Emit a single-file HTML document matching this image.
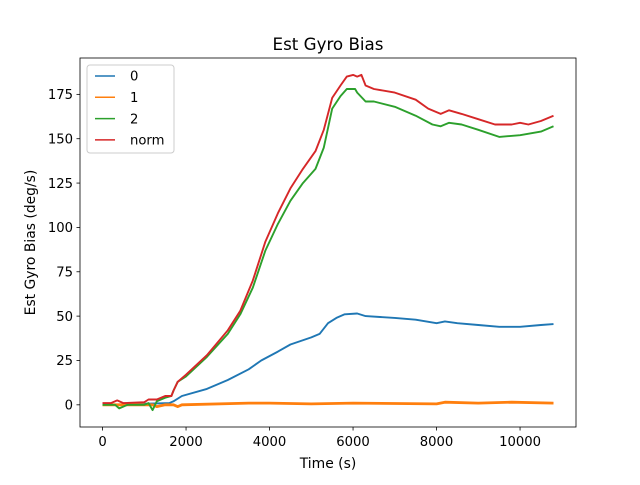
<!DOCTYPE html>
<html><head><meta charset="utf-8"><style>
body{margin:0;background:#fff}
text{font-family:"DejaVu Sans","Liberation Sans",sans-serif;fill:#000}
</style></head><body>
<svg id="chart" width="640" height="480" xmlns="http://www.w3.org/2000/svg">
<rect width="640" height="480" fill="#fff"/>
<text x="328" y="50" font-size="16.7" text-anchor="middle">Est Gyro Bias</text>
<g id="plot"></g>
<rect x="80" y="58" width="496" height="369" fill="none" stroke="#000" stroke-width="0.8"/>
<text x="328" y="468" font-size="13.9" text-anchor="middle">Time (s)</text>
<text transform="translate(35,242.5) rotate(-90)" font-size="13.9" text-anchor="middle">Est Gyro Bias (deg/s)</text>
<g id="legend">
<rect x="87" y="65" width="87" height="88" rx="3" fill="#fff" fill-opacity="0.8" stroke="#ccc"/>
</g>
</svg>
<script>
const xTicks=[0,2000,4000,6000,8000,10000];
const yTicks=[0,25,50,75,100,125,150,175];
const seriesNames=["0","1","2","norm"];
const seriesColors=["#1f77b4","#ff7f0e","#2ca02c","#d62728"];
const t0=[0,1600,1700,1900,2500,3000,3500,3800,4200,4500,5000,5200,5400,5600,5800,6100,6300,7000,7500,8000,8200,8500,9000,9500,10000,10500,10800];
const v0=[0,1,2,5,9,14,20,25,30,34,38,40,46,49,51,51.5,50,49,48,46,47,46,45,44,44,45,45.5];
const t1=[0,1200,1300,1500,1700,1800,1900,3500,4000,5000,6000,8000,8200,9000,9800,10800];
const v1=[0,0,-1,0,0,-1,0,1,1,0.5,1,0.5,1.5,1,1.5,1];
const t2=[0,300,400,600,1000,1100,1200,1300,1500,1650,1700,1800,2000,2500,3000,3300,3600,3900,4200,4500,4800,5100,5300,5500,5700,5850,6050,6100,6300,6500,7000,7500,7900,8100,8300,8600,9000,9500,10000,10500,10800];
const v2=[0,0,-2,0,0,1,-3,2,4,5,8,13,16,27,40,51,66,87,102,115,125,133,145,167,174,178,178,176,171,171,168,163,158,157,159,158,155,151,152,154,157];
const t3=[0,200,350,500,1000,1100,1300,1500,1650,1700,1800,2000,2500,3000,3300,3600,3900,4200,4500,4800,5100,5300,5500,5700,5850,6000,6100,6200,6300,6500,7000,7500,7800,8100,8300,8600,9000,9400,9800,10000,10200,10500,10800];
const v3=[1,1,2.5,1,1.5,3,3,5,5,8,13,17,28,42,53,70,92,108,122,133,143,155,173,180,185,186,185,186,180,178,176,172,167,164,166,164,161,158,158,159,158,160,163];
const ts=[t0,t1,t2,t3], vs=[v0,v1,v2,v3];
const X0=80,X1=576,Y0=58,Y1=427,xmin=-540,xmax=11340,ymin=-12.5,ymax=195.5;
const sx=v=>X0+(v-xmin)/(xmax-xmin)*(X1-X0);
const sy=v=>Y1-(v-ymin)/(ymax-ymin)*(Y1-Y0);
const NS="http://www.w3.org/2000/svg";
const plot=document.getElementById('plot');
function mk(tag,attrs,parent){const e=document.createElementNS(NS,tag);for(const k in attrs)e.setAttribute(k,attrs[k]);parent.appendChild(e);return e;}
xTicks.forEach(v=>{
  const l=mk('line',{x1:sx(v),x2:sx(v),y1:Y1,y2:Y1+3.5,stroke:'#000','stroke-width':0.8},plot);
  
  
  const t=mk('text',{x:sx(v),y:Y1+19,'font-size':13.2,'text-anchor':'middle'},plot);t.textContent=v;
  
  
});
yTicks.forEach(v=>{
  const l=mk('line',{x1:X0-3.5,x2:X0,y1:sy(v),y2:sy(v),stroke:'#000','stroke-width':0.8},plot);
  
  
  const t=mk('text',{x:X0-7,y:sy(v)+4.7,'font-size':13.2,'text-anchor':'end'},plot);t.textContent=v;
  
  
});
const clip=mk('clipPath',{id:'cp'},plot);mk('rect',{x:X0,y:Y0,width:X1-X0,height:Y1-Y0},clip);
ts.forEach((t,i)=>{
  const d=t.map((x,j)=>(j?'L':'M')+sx(x).toFixed(1)+','+sy(vs[i][j]).toFixed(1)).join('');
  const p=mk('path',{d:d,fill:'none',stroke:seriesColors[i],'stroke-width':i==1?2.8:1.9,'stroke-linejoin':'round','clip-path':'url(#cp)'},plot);
  
  
});
const lg=document.getElementById('legend');
seriesNames.forEach((n,i)=>{
  const y=76+i*21.3;
  const l=mk('line',{x1:95,x2:115,y1:y,y2:y,stroke:seriesColors[i],'stroke-width':1.5},lg);
  
  
  const t=mk('text',{x:130,y:y+4.7,'font-size':13.2},lg);t.textContent=n;
  
  
});
</script>
</body></html>
